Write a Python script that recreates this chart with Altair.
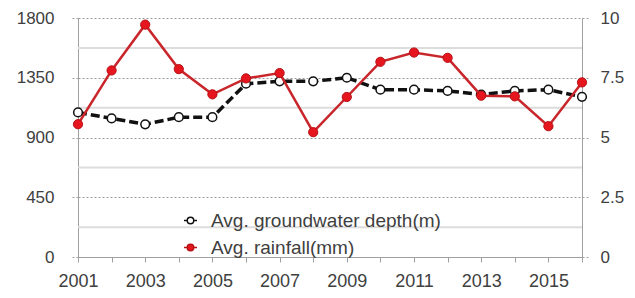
import altair as alt
import pandas as pd

years = list(range(2001, 2017))
rainfall = [1000, 1405, 1750, 1415, 1225, 1345, 1385, 940, 1205, 1470, 1540, 1500, 1215, 1210, 985, 1315]
groundwater = [6.05, 5.8, 5.55, 5.85, 5.85, 7.25, 7.35, 7.35, 7.5, 7.0, 7.0, 6.95, 6.8, 6.95, 7.0, 6.7]
rain_ticks = [0, 450, 900, 1350, 1800]
depth_ticks = [0, 2.5, 5, 7.5, 10]
depth_minor = [1.25, 3.75, 6.25, 8.75]
series = ["Avg. groundwater depth(m)", "Avg. rainfall(mm)"]

gw_df = pd.DataFrame({"year": years, "value": groundwater, "series": series[0]})
rain_df = pd.DataFrame({"year": years, "value": rainfall, "series": series[1]})
minor_df = pd.DataFrame({"value": depth_minor})

FONT = "Liberation Sans"
TXT = "#404040"
AX = "#a0a0a0"
RED = "#e5161d"
RED_LINE = "#c9262c"

x_enc = alt.X(
    "year:Q",
    scale=alt.Scale(domain=[2001, 2016], nice=False, zero=False),
    axis=alt.Axis(
        values=years, format="d",
        labelExpr="datum.value % 2 == 1 ? datum.label : ''",
        grid=False, title=None, tickSize=5, tickColor=AX, domainColor=AX,
        labelFontSize=18, labelColor=TXT, labelPadding=10, labelFont=FONT,
        labelOverlap=False, labelFlush=False,
    ),
)

legend_path = "M-1,0L-0.5,0M0.5,0L1,0M0.5,0A0.5,0.5,0,1,1,-0.5,0A0.5,0.5,0,1,1,0.5,0Z"

def make_legend():
    return alt.Legend(
        orient="none", legendX=103, legendY=193, title=None,
        symbolType=legend_path, symbolSize=170, symbolStrokeWidth=1.5,
        labelFontSize=19, labelFont=FONT, labelColor=TXT, labelOffset=11,
        labelLimit=0, rowPadding=7, padding=0,
    )

fill_enc = alt.Fill("series:N", scale=alt.Scale(domain=series, range=["white", RED]), legend=make_legend())
stroke_enc = alt.Stroke("series:N", scale=alt.Scale(domain=series, range=["#111111", "#b81015"]), legend=make_legend())

gw_scale = alt.Scale(domain=[0, 10], nice=False, zero=True)
rain_scale = alt.Scale(domain=[0, 1800], nice=False, zero=True)

gw_axis = alt.Axis(
    orient="right", values=depth_ticks, format=".1~f", grid=False, title=None,
    tickSize=6, tickColor=AX, tickDash=[2, 2], domainColor=AX,
    labelFontSize=17, labelFont=FONT, labelColor=TXT, labelPadding=12,
)
rain_axis = alt.Axis(
    orient="left", values=rain_ticks, format="d", grid=True, gridDash=[2, 2], gridColor="#9a9a9a",
    title=None, tickSize=6, tickColor=AX, tickDash=[2, 2], domainColor=AX,
    labelFontSize=17, labelFont=FONT, labelColor=TXT, labelPadding=18,
)

minor_rules = alt.Chart(minor_df).mark_rule(color="#dcdcdc", strokeWidth=2).encode(
    y=alt.Y("value:Q", scale=gw_scale, axis=gw_axis)
)

gw_line = alt.Chart(gw_df).mark_line(color="#111111", strokeWidth=3.5, strokeDash=[9, 4]).encode(
    x=x_enc, y=alt.Y("value:Q", scale=gw_scale, axis=gw_axis)
)
gw_points = alt.Chart(gw_df).mark_point(filled=True, size=75, strokeWidth=1.5, opacity=1).encode(
    x=x_enc, y=alt.Y("value:Q", scale=gw_scale, axis=gw_axis), fill=fill_enc, stroke=stroke_enc
)

rain_line = alt.Chart(rain_df).mark_line(color=RED_LINE, strokeWidth=2.5).encode(
    x=x_enc, y=alt.Y("value:Q", scale=rain_scale, axis=rain_axis)
)
rain_points = alt.Chart(rain_df).mark_point(filled=True, size=85, strokeWidth=1, opacity=1).encode(
    x=x_enc, y=alt.Y("value:Q", scale=rain_scale, axis=rain_axis), fill=fill_enc, stroke=stroke_enc
)

gw_layer = alt.layer(minor_rules, gw_line, gw_points)
rain_layer = alt.layer(rain_line, rain_points)

chart = (
    alt.layer(gw_layer, rain_layer)
    .resolve_scale(y="independent")
    .properties(
        width=504, height=239,
        padding={"left": 70, "top": 10, "right": 45, "bottom": 42},
        autosize=alt.AutoSizeParams(type="none"),
    )
    .configure_view(stroke=None)
)

chart.save("out.html", embed_options={"renderer": "svg", "actions": False})
